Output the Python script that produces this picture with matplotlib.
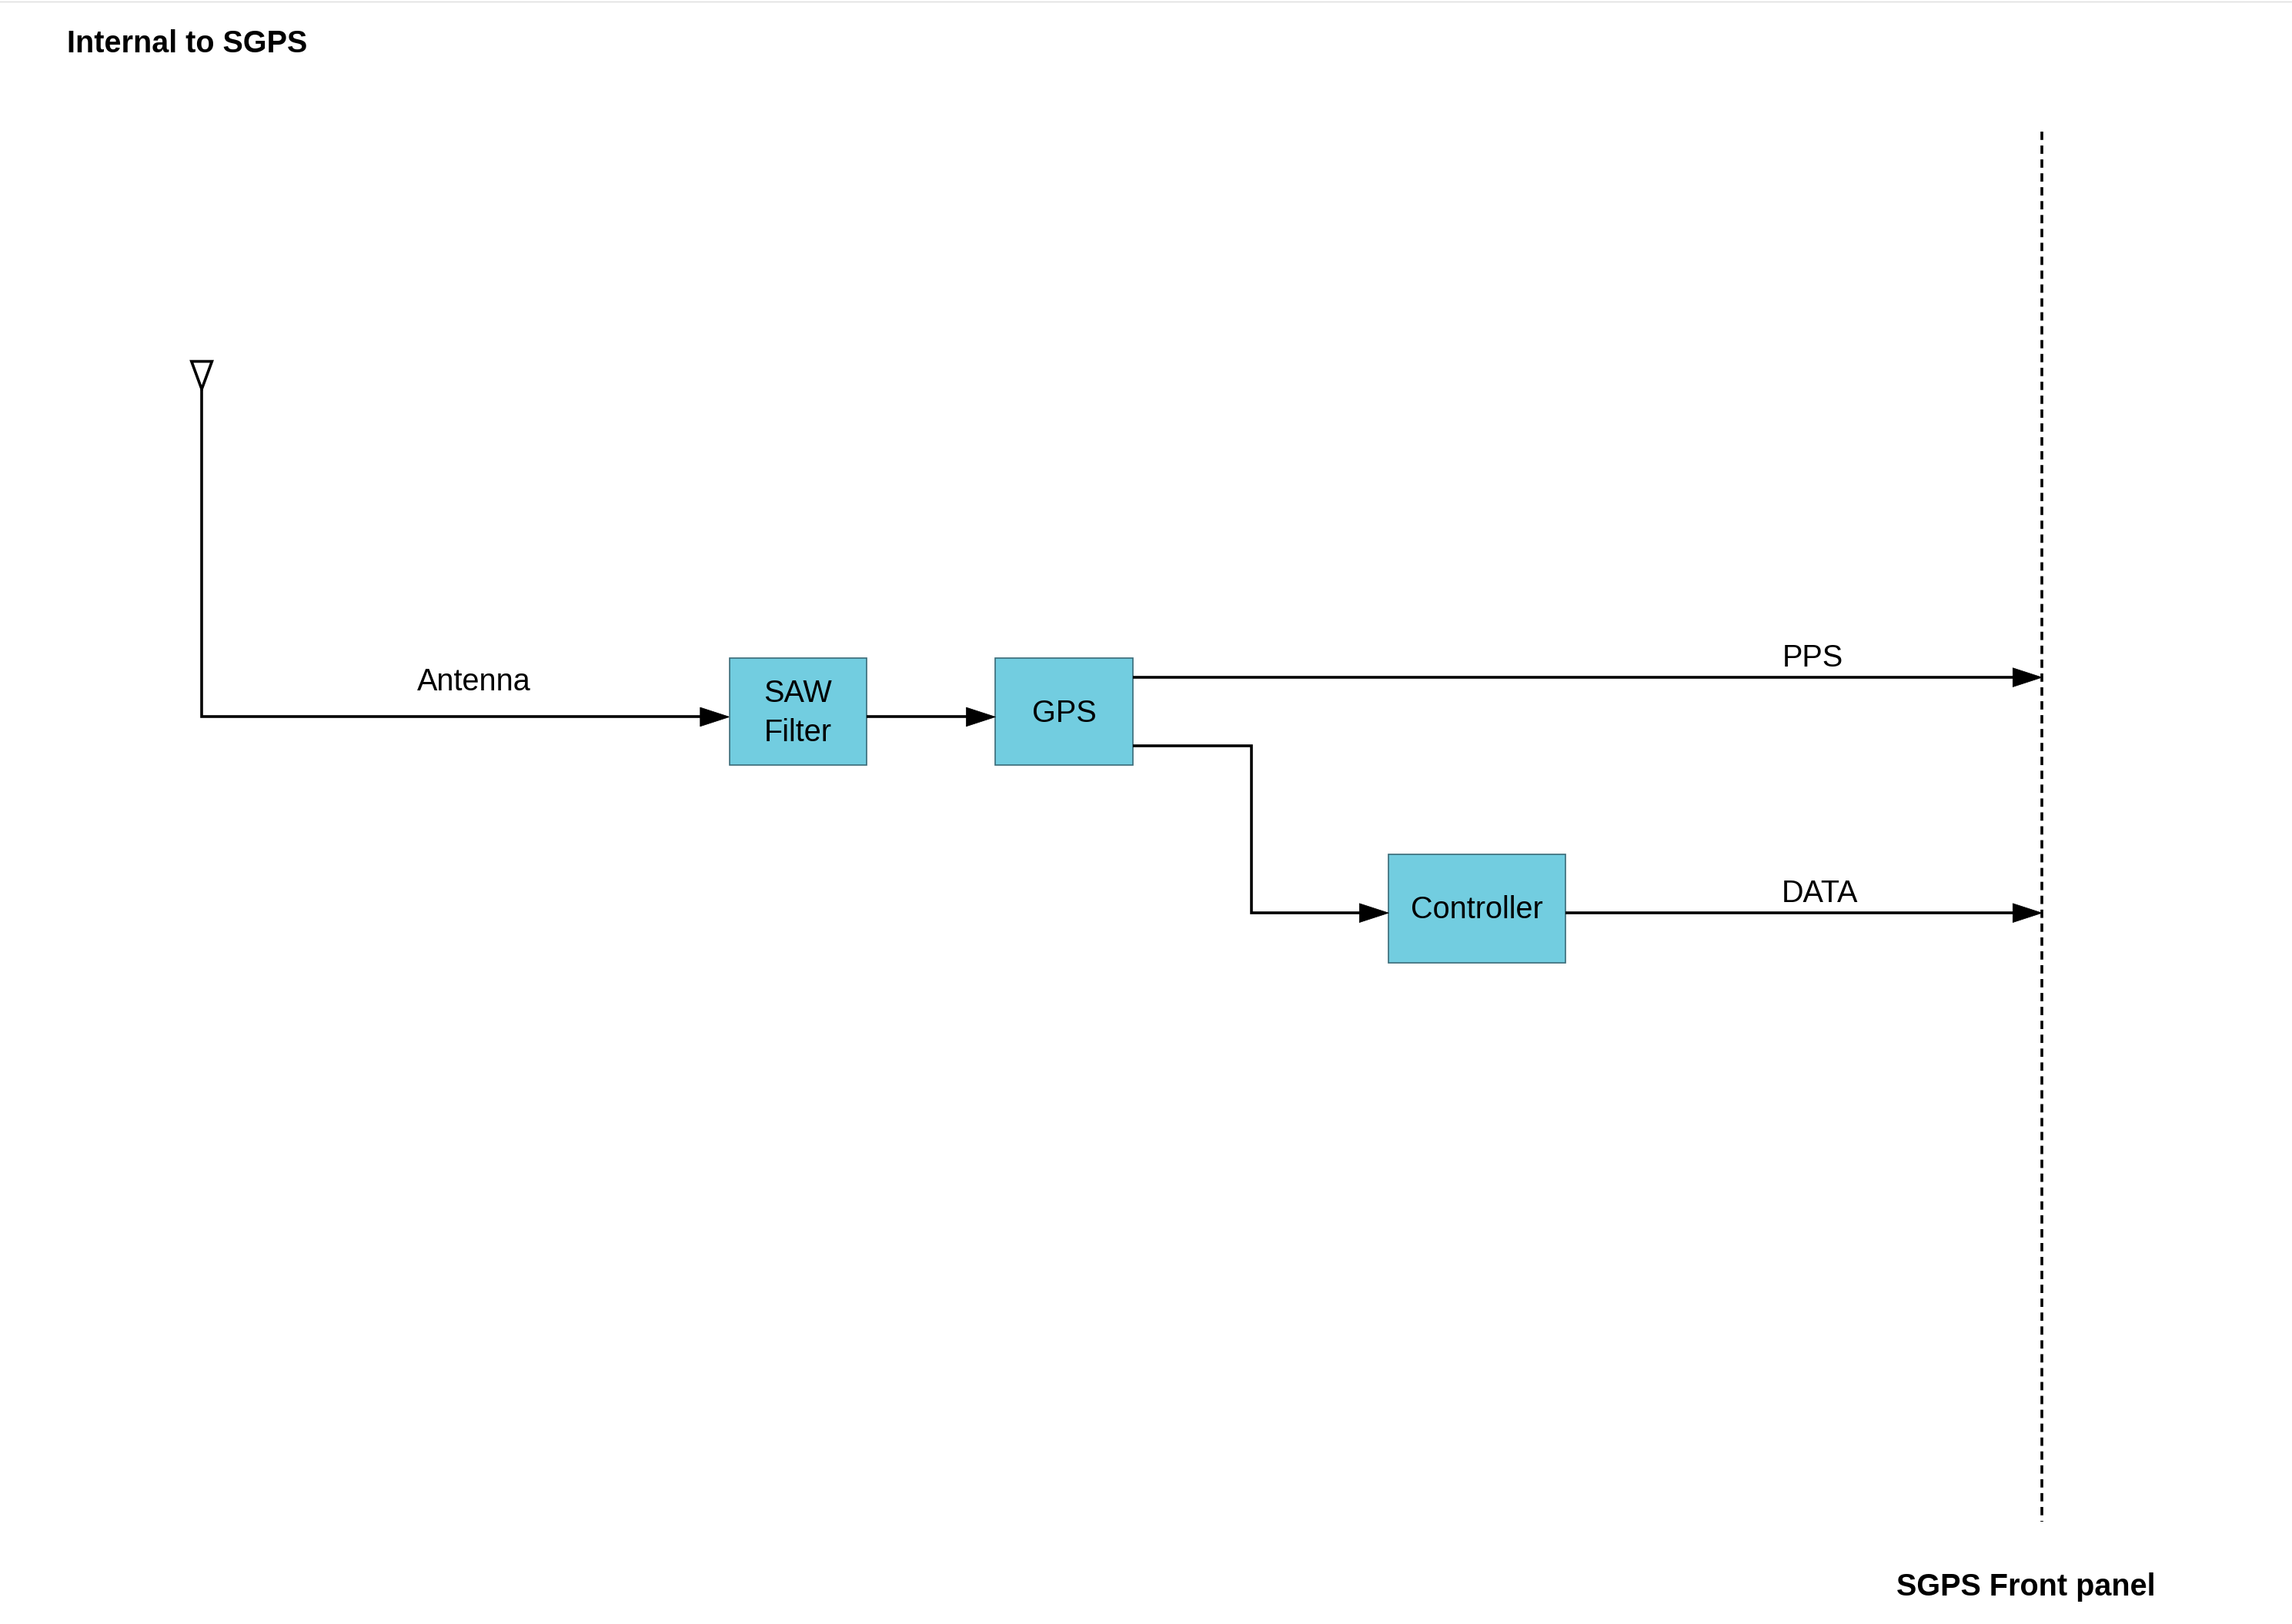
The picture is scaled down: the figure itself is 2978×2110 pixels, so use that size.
import matplotlib
matplotlib.use("Agg")
import matplotlib.pyplot as plt
from matplotlib.patches import Rectangle, Polygon

plt.rcParams['font.family'] = ['Liberation Sans', 'DejaVu Sans']

title_left = "Internal to SGPS"
title_right = "SGPS Front panel"
block_labels = ["SAW\nFilter", "GPS", "Controller"]
signal_labels = ["Antenna", "PPS", "DATA"]

fig = plt.figure(figsize=(29.78, 21.10), dpi=100)
ax = fig.add_axes([0, 0, 1, 1])
ax.set_xlim(0, 1568)
ax.set_ylim(1110, 0)
ax.axis('off')

S = 1.9
lw = 1.9 * S * 0.72 * 1.0
fs = 15 * S
box_color = '#72CDE0'

ax.plot([0, 1568], [1, 1], color='#dddddd', lw=1)

ax.text(46, 30, title_left, fontsize=fs, fontweight='bold', va='center', ha='left')
ax.text(1386, 1085, title_right, fontsize=fs, fontweight='bold', va='center', ha='center')

ax.plot([1397, 1397], [90, 1040], color='black', lw=lw, ls=(0, (3, 2)))

def arrow(pts):
    xs = [p[0] for p in pts]; ys = [p[1] for p in pts]
    ax.plot(xs[:-1] + [xs[-1] - (19 if xs[-1] > xs[-2] else 0)], ys, color='black', lw=lw,
            solid_capstyle='butt', solid_joinstyle='miter')
    x, y = pts[-1]
    ax.add_patch(Polygon([[x, y], [x - 20, y - 6.5], [x - 20, y + 6.5]], closed=True,
                         facecolor='black', edgecolor='black', lw=0.5))

# antenna
ax.add_patch(Polygon([[131, 247], [145, 247], [138, 266]], closed=True, facecolor='white',
                     edgecolor='black', lw=lw))
arrow([(138, 266), (138, 490), (499, 490)])
ax.text(324, 466, signal_labels[0], fontsize=fs, ha='center', va='center')

boxes = [(499, 450, 94, 73), (681, 450, 94, 73), (950, 584, 121, 74)]
for (x, y, w, h), lab in zip(boxes, block_labels):
    ax.add_patch(Rectangle((x, y), w, h, facecolor=box_color, edgecolor='#3a6b78', lw=1.2))
    ax.text(x + w / 2, y + h / 2 + 1, lab, fontsize=fs, ha='center', va='center', linespacing=1.45)

arrow([(593, 490), (681, 490)])
arrow([(775, 463), (1397, 463)])
ax.text(1240, 450, signal_labels[1], fontsize=fs, ha='center', va='center')
arrow([(775, 510), (856, 510), (856, 624), (950, 624)])
arrow([(1071, 624), (1397, 624)])
ax.text(1245, 611, signal_labels[2], fontsize=fs, ha='center', va='center')

fig.savefig("out.png", dpi=100)
